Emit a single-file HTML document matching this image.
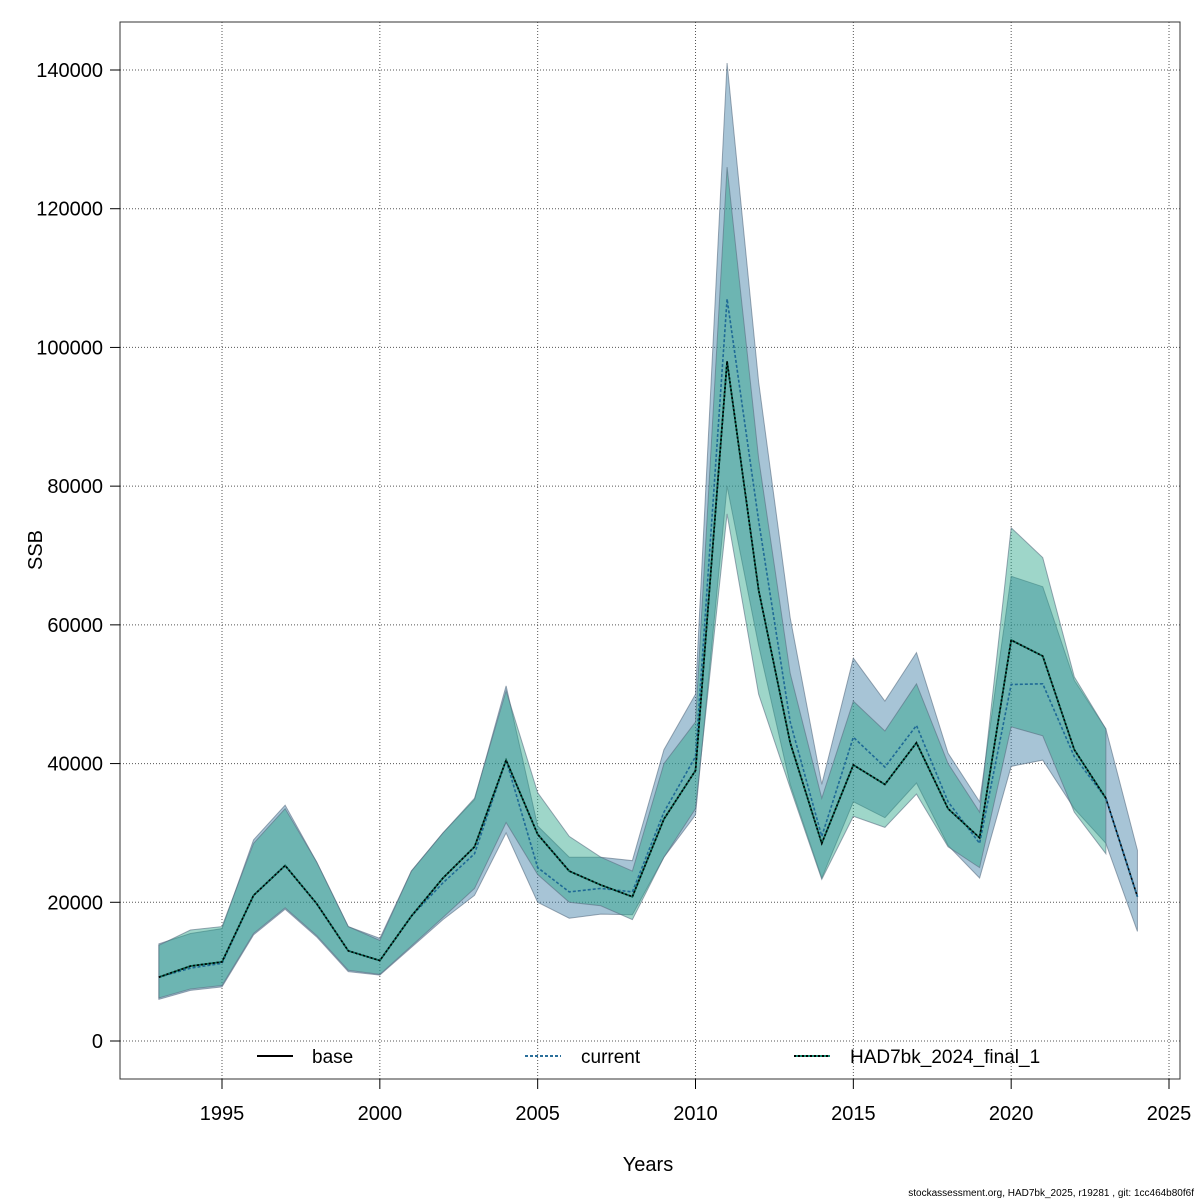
<!DOCTYPE html>
<html><head><meta charset="utf-8"><style>body{margin:0;background:#fff}svg{display:block}</style></head><body>
<svg id="s" width="1200" height="1200" xmlns="http://www.w3.org/2000/svg" font-family="Liberation Sans, sans-serif">
<rect width="1200" height="1200" fill="#fff"/>
<g id="grid" stroke="#555" stroke-width="1" stroke-dasharray="1,2"></g>
<g id="bands"></g>
<g id="lines"></g>
<rect x="120" y="22" width="1060" height="1057" fill="none" stroke="#333" stroke-width="1"/>
<g id="ax" font-size="20" fill="#000"></g>
<text x="648" y="1171" font-size="20" text-anchor="middle">Years</text>
<text x="42" y="550" font-size="20" text-anchor="middle" transform="rotate(-90 42 550)">SSB</text>
<line x1="257" y1="1056" x2="293" y2="1056" stroke="#000" stroke-width="2"/>
<text x="312" y="1063" font-size="19">base</text>
<line x1="525" y1="1056" x2="561" y2="1056" stroke="#2a6f9a" stroke-width="2" stroke-dasharray="3,2"/>
<text x="581" y="1063" font-size="19">current</text>
<line x1="794" y1="1056" x2="830" y2="1056" stroke="#1a8a70" stroke-width="2"/>
<line x1="794" y1="1056" x2="830" y2="1056" stroke="#000" stroke-width="2" stroke-dasharray="2,2"/>
<text x="850" y="1063" font-size="19">HAD7bk_2024_final_1</text>
<text x="1194" y="1196" font-size="10" text-anchor="end">stockassessment.org, HAD7bk_2025, r19281 , git: 1cc464b80f6f</text>
</svg>
<script>
const X=y=>222+(y-1995)*31.567, Y=v=>1041-v*(971/140000);
const yrs=[];for(let y=1993;y<=2024;y++)yrs.push(y);
const base=[9200,10800,11400,21000,25300,19800,13000,11600,18000,23500,28000,40500,29800,24500,22500,20800,32000,39000,98000,65000,43000,28500,39800,37000,43000,33500,29300,57800,55500,42000,35000,20800];
const cur=[9200,10500,11200,21000,25300,19800,13000,11600,18000,22800,27000,40500,25000,21500,22000,21500,33000,41000,107000,75000,46000,29500,43800,39500,45500,34500,28500,51400,51500,41000,35000,20800];
const bu=[14000,15500,16200,29000,34000,25800,16500,14800,24500,30000,34800,51200,31000,26500,26500,26000,42000,50000,141000,95000,61000,37000,55200,49000,56000,41500,34500,67000,65500,52000,45000,27500];
const bl=[6000,7300,7800,15300,19000,15000,10000,9500,13500,17500,21000,30000,20000,17700,18300,18200,26500,32600,80000,57000,37000,23500,34500,32200,37200,28200,23500,39600,40500,33500,28500,15800];
const gu=[13800,16000,16500,28500,33500,25800,16500,14500,24500,30000,35000,50500,35800,29500,26500,24500,40000,46000,126000,84000,53000,35000,49000,44700,51500,40000,33000,74000,69700,52500,45000];
const gl=[6200,7500,8000,15500,19200,15200,10200,9600,13700,17800,22000,31500,24000,20000,19500,17500,26500,33500,76000,50000,36500,23300,32400,30800,35600,28000,25000,45300,44000,33000,27000];
const ns='http://www.w3.org/2000/svg';
function el(p,t,a,txt){const e=document.createElementNS(ns,t);for(const k in a)e.setAttribute(k,a[k]);if(txt!=null)e.textContent=txt;document.getElementById(p).appendChild(e);}
for(let y=1995;y<=2025;y+=5){el('grid','line',{x1:X(y),y1:22,x2:X(y),y2:1079});el('ax','line',{x1:X(y),y1:1079,x2:X(y),y2:1089,stroke:'#000'});el('ax','text',{x:X(y),y:1120,'text-anchor':'middle'},y);}
for(let v=0;v<=140000;v+=20000){el('grid','line',{x1:120,y1:Y(v),x2:1180,y2:Y(v)});el('ax','line',{x1:110,y1:Y(v),x2:120,y2:Y(v),stroke:'#000'});el('ax','text',{x:103,y:Y(v)+7,'text-anchor':'end'},v);}
function band(u,l,fill){let p=u.map((v,i)=>X(yrs[i])+','+Y(v));for(let i=l.length-1;i>=0;i--)p.push(X(yrs[i])+','+Y(l[i]));el('bands','polygon',{points:p.join(' '),fill:fill,stroke:'rgba(90,110,130,0.6)','stroke-width':1});}
band(bu,bl,'rgba(60,125,165,0.45)');
band(gu,gl,'rgba(40,165,135,0.45)');
const pl=a=>a.map((v,i)=>X(yrs[i])+','+Y(v)).join(' ');
el('lines','polyline',{points:pl(base),fill:'none',stroke:'#000','stroke-width':1.6});
el('lines','polyline',{points:pl(cur),fill:'none',stroke:'#1f6a96','stroke-width':1.6,'stroke-dasharray':'3,2'});
el('lines','polyline',{points:pl(base.slice(0,31)),fill:'none',stroke:'#0b6e58','stroke-width':1.6});
el('lines','polyline',{points:pl(base.slice(0,31)),fill:'none',stroke:'#000','stroke-width':1.6,'stroke-dasharray':'2,2'});
</script>
</body></html>
